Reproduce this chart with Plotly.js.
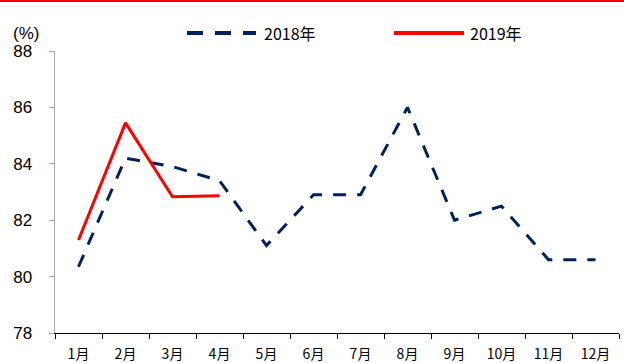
<!DOCTYPE html>
<html><head><meta charset="utf-8">
<script src="https://cdn.plot.ly/plotly-3.0.1.min.js"></script>
<style>html,body{margin:0;padding:0;background:#fff}</style>
</head><body><div id="chart" style="width:624px;height:363px"></div>
<script>
const months = ['1月','2月','3月','4月','5月','6月','7月','8月','9月','10月','11月','12月'];
const values2018 = [80.35, 84.2, 83.9, 83.4, 81.1, 82.9, 82.9, 86.0, 82.0, 82.5, 80.6, 80.6];
const months2019 = ['1月','2月','3月','4月'];
const values2019 = [81.3, 85.45, 82.83, 82.87];
const yTicks = [78, 80, 82, 84, 86, 88];
const name2018 = '2018年', name2019 = '2019年';
const navy = '#002060', red = '#FF0000';

const W = 564, H = 282, L = 55, T = 51;
const px = x => (x - L) / W;
const py = y => 1 + (T - y) / H;

const traces = [
  {x: months, y: values2018, type: 'scatter', mode: 'lines', name: name2018,
   line: {color: navy, width: 3, dash: '13px,11px'}},
  {x: months2019, y: values2019, type: 'scatter', mode: 'lines', name: name2019,
   line: {color: red, width: 3}}
];

const layout = {
  width: 624, height: 363,
  margin: {l: L, r: 624 - L - W, t: T, b: 363 - T - H},
  paper_bgcolor: '#fff', plot_bgcolor: '#fff',
  showlegend: false,
  xaxis: {
    type: 'category', categoryarray: months, range: [-0.5, 11.5],
    showgrid: false, zeroline: false,
    showline: true, linecolor: '#000', linewidth: 1,
    ticks: 'outside', tickson: 'boundaries', ticklen: 5, tickcolor: '#000', tickwidth: 1,
    tickfont: {family: 'Noto Sans CJK SC', size: 14, color: '#000'},
    ticklabelstandoff: 8
  },
  yaxis: {
    range: [78, 88], tickvals: yTicks, ticktext: yTicks.map(String),
    showgrid: false, zeroline: false,
    showline: true, linecolor: '#a6a6a6', linewidth: 1.5,
    ticks: 'outside', ticklen: 5, tickcolor: '#a6a6a6', tickwidth: 1,
    tickfont: {family: 'Liberation Sans, Arial', size: 17, color: '#000'},
    ticklabelstandoff: 13
  },
  shapes: [
    {type: 'line', xref: 'paper', yref: 'paper', x0: px(0), x1: px(624), y0: py(1), y1: py(1),
     line: {color: red, width: 2}},
    {type: 'line', xref: 'paper', yref: 'paper', x0: px(187), x1: px(256), y0: py(33), y1: py(33),
     line: {color: navy, width: 4, dash: '16px,12px'}},
    {type: 'line', xref: 'paper', yref: 'paper', x0: px(394), x1: px(464), y0: py(33), y1: py(33),
     line: {color: red, width: 4}}
  ],
  annotations: [
    {xref: 'paper', yref: 'paper', x: px(262), y: py(33), xanchor: 'left', yanchor: 'middle',
     text: name2018, showarrow: false, font: {family: 'Noto Sans CJK SC', size: 16, color: '#000'}},
    {xref: 'paper', yref: 'paper', x: px(468), y: py(33), xanchor: 'left', yanchor: 'middle',
     text: name2019, showarrow: false, font: {family: 'Noto Sans CJK SC', size: 16, color: '#000'}},
    {xref: 'paper', yref: 'paper', x: px(11), y: py(33), xanchor: 'left', yanchor: 'middle',
     text: '(%)', showarrow: false, font: {family: 'Liberation Sans, Arial', size: 17, color: '#000'}}
  ]
};

Plotly.newPlot('chart', traces, layout, {displayModeBar: false, staticPlot: true});
</script></body></html>
